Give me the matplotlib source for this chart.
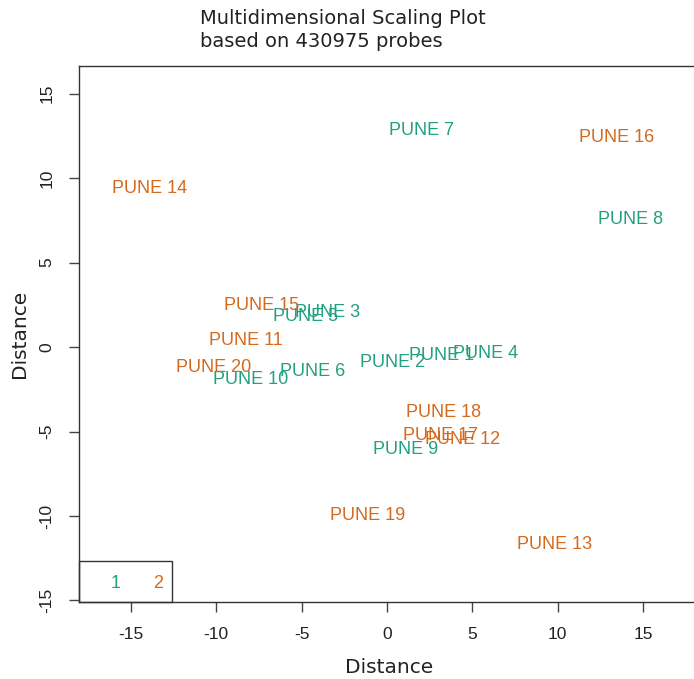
import matplotlib
matplotlib.use("Agg")
import matplotlib.pyplot as plt
from matplotlib.patches import Rectangle

# MDS coordinates (dimension 1, dimension 2) for each sample
samples = ["PUNE 1", "PUNE 2", "PUNE 3", "PUNE 4", "PUNE 5", "PUNE 6", "PUNE 7",
           "PUNE 8", "PUNE 9", "PUNE 10", "PUNE 11", "PUNE 12", "PUNE 13",
           "PUNE 14", "PUNE 15", "PUNE 16", "PUNE 17", "PUNE 18", "PUNE 19",
           "PUNE 20"]
dim1 = [3.22, 0.35, -3.46, 5.80, -4.75, -4.33, 2.05, 14.29, 1.11, -7.97,
        -8.26, 4.45, 9.84, -13.88, -7.32, 13.47, 3.16, 3.34, -1.11, -10.13]
dim2 = [-0.53, -0.89, 2.07, -0.36, 1.83, -1.42, 12.84, 7.57, -6.09, -1.95,
        0.36, -5.50, -11.66, 9.41, 2.43, 12.37, -5.21, -3.85, -10.00, -1.24]
groups = [1] * 10 + [2] * 10
group_labels = ["1", "2"]
group_colors = {1: "#23A080", 2: "#D5691C"}

x_ticks = [-15, -10, -5, 0, 5, 10, 15]
y_ticks = [-15, -10, -5, 0, 5, 10, 15]

W, H = 694, 679
fig = plt.figure(figsize=(W / 100, H / 100), dpi=100)
left, right, top, bottom = 79, 700, 66, 602
ax = fig.add_axes([left / W, 1 - bottom / H, (right - left) / W, (bottom - top) / H])

label_font = "Liberation Sans"
label_size = 13
for name, x, y, g in zip(samples, dim1, dim2, groups):
    ax.text(x, y, name, ha="center", va="center", color=group_colors[g],
            fontsize=label_size, family=label_font)

ax.set_xlim(-18.04, 18.34)
ax.set_ylim(-15.09, 16.63)
ax.tick_params(direction="out", length=7.5, width=1, color="#444444")
ax.tick_params(axis="x", pad=10.8)
ax.tick_params(axis="y", pad=12.2)
ax.set_xticks(x_ticks)
ax.set_yticks(y_ticks)
ax.set_xticklabels([str(t) for t in x_ticks], family=label_font, fontsize=12.5,
                   color="#222222")
# y tick labels are drawn parallel to the axis, centred on each tick
ax.set_yticklabels([str(t) for t in y_ticks], family=label_font, fontsize=12.5,
                   rotation=90, rotation_mode="anchor", ha="center",
                   va="baseline", color="#222222")
for s in ax.spines.values():
    s.set_color("#333333")
    s.set_linewidth(1.0)

ax.set_xlabel("Distance", fontsize=14.5, family="DejaVu Sans", color="#222222",
              labelpad=11.5)
ax.set_ylabel("Distance", fontsize=14.5, family="DejaVu Sans", color="#222222",
              labelpad=8)

# Group legend in the lower-left corner
leg_box = Rectangle((0.0, 0.0), (172 - left) / (right - left), (602 - 561) / (bottom - top),
                    transform=ax.transAxes, fill=False, edgecolor="#333333",
                    linewidth=1.0, clip_on=False)
ax.add_patch(leg_box)
for lab, xpx in zip(group_labels, [116, 158]):
    ax.text((xpx - left) / (right - left), (602 - 583) / (bottom - top), lab,
            transform=ax.transAxes, ha="center", va="center",
            color=group_colors[int(lab)], fontsize=label_size, family=label_font)

fig.text(200 / W, 1 - 9 / H, "Multidimensional Scaling Plot\nbased on 430975 probes",
         ha="left", va="top", fontsize=14, family="DejaVu Sans", color="#222222",
         linespacing=1.27)

fig.savefig("out.png", dpi=100, facecolor="white")
